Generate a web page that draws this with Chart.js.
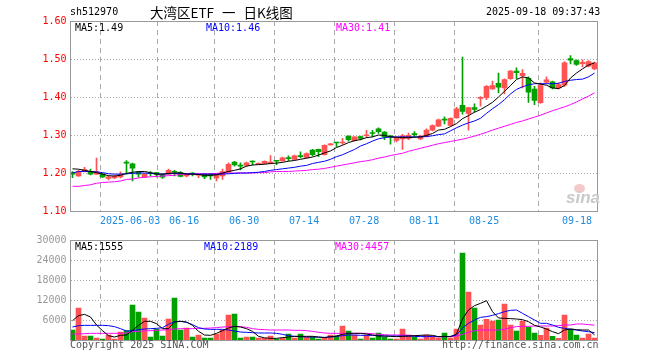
<!DOCTYPE html>
<html><head><meta charset="utf-8">
<script src="https://cdn.jsdelivr.net/npm/chart.js@4.4.1/dist/chart.umd.min.js"></script>
<style>
html,body{margin:0;padding:0;background:#fff;}
#wrap{position:relative;width:660px;height:360px;overflow:hidden;background:#fff;}
canvas{position:absolute;left:0;top:0;}
.t{position:absolute;font:10px "DejaVu Sans Mono",monospace;white-space:nowrap;line-height:12px;}
</style></head><body>
<div id="wrap">
<canvas id="vol" width="660" height="360"></canvas>
<canvas id="price" width="660" height="360"></canvas>
<div class="t" style="left:70px;top:6px;color:#000">sh512970</div>
<div class="t" style="left:150px;top:3px;font:13.5px 'Noto Sans CJK SC',sans-serif;line-height:18px;word-spacing:5px;color:#000">大湾区ETF 一 日K线图</div>
<div class="t" style="left:486px;top:6px;color:#000">2025-09-18 09:37:43</div>
<div class="t" style="left:75px;top:22px;color:#000">MA5:1.49</div>
<div class="t" style="left:206px;top:22px;color:#0000ff">MA10:1.46</div>
<div class="t" style="left:336px;top:22px;color:#ff00ff">MA30:1.41</div>
<div class="t" style="left:75px;top:241px;color:#000">MA5:1555</div>
<div class="t" style="left:204px;top:241px;color:#0000ff">MA10:2189</div>
<div class="t" style="left:335px;top:241px;color:#ff00ff">MA30:4457</div>
<div class="t" style="left:70px;top:339px;color:#555">Copyright 2025 SINA.COM</div>
<div class="t" style="left:442px;top:339px;color:#555">http://finance.sina.com.cn</div>
<div style="position:absolute;left:574px;top:184px;width:11px;height:9px;border-radius:50%;background:#f3c9c9;"></div>
<div class="t" style="left:566px;top:189px;font:italic bold 17px 'Liberation Sans',sans-serif;line-height:18px;color:#c9c9c9">sina</div>
</div>
<script>
const dates = ['05-19','05-20','05-21','05-22','05-23','05-26','05-27','05-28','05-29','05-30',
'06-03','06-04','06-05','06-06','06-09','06-10','06-11','06-12','06-13','06-16',
'06-17','06-18','06-19','06-20','06-23','06-24','06-25','06-26','06-27','06-30',
'07-01','07-02','07-03','07-04','07-07','07-08','07-09','07-10','07-11','07-14',
'07-15','07-16','07-17','07-18','07-21','07-22','07-23','07-24','07-25','07-28',
'07-29','07-30','07-31','08-01','08-04','08-05','08-06','08-07','08-08','08-11',
'08-12','08-13','08-14','08-15','08-18','08-19','08-20','08-21','08-22','08-25',
'08-26','08-27','08-28','08-29','09-01','09-02','09-03','09-04','09-05','09-08',
'09-09','09-10','09-11','09-12','09-15','09-16','09-17','09-18'];
const open = [1.201,1.192,1.204,1.204,1.197,1.197,1.186,1.187,1.190,1.228,
1.224,1.202,1.189,1.200,1.201,1.195,1.197,1.204,1.202,1.192,
1.198,1.194,1.197,1.197,1.187,1.192,1.203,1.229,1.220,1.220,
1.231,1.223,1.225,1.226,1.232,1.232,1.239,1.236,1.245,1.241,
1.260,1.262,1.248,1.274,1.280,1.279,1.297,1.285,1.296,1.298,
1.305,1.316,1.308,1.298,1.286,1.290,1.291,1.302,1.290,1.296,
1.313,1.323,1.342,1.325,1.345,1.378,1.357,1.372,1.396,1.398,
1.421,1.436,1.424,1.448,1.468,1.456,1.449,1.421,1.385,1.439,
1.440,1.424,1.431,1.501,1.496,1.488,1.481,1.474];
const high = [1.204,1.207,1.215,1.210,1.239,1.199,1.192,1.194,1.203,1.233,
1.226,1.204,1.199,1.204,1.202,1.197,1.210,1.207,1.204,1.199,
1.201,1.198,1.199,1.199,1.198,1.210,1.227,1.231,1.227,1.229,
1.232,1.227,1.232,1.246,1.233,1.242,1.245,1.247,1.256,1.253,
1.262,1.263,1.274,1.278,1.281,1.291,1.298,1.296,1.297,1.312,
1.312,1.319,1.309,1.299,1.295,1.302,1.305,1.309,1.299,1.316,
1.327,1.342,1.348,1.345,1.373,1.505,1.373,1.382,1.401,1.430,
1.442,1.463,1.448,1.470,1.477,1.472,1.453,1.428,1.437,1.453,
1.442,1.437,1.493,1.509,1.498,1.498,1.496,1.492];
const low = [1.188,1.191,1.203,1.195,1.196,1.188,1.182,1.185,1.187,1.197,
1.179,1.189,1.188,1.192,1.190,1.186,1.196,1.192,1.190,1.190,
1.192,1.188,1.185,1.183,1.179,1.183,1.201,1.218,1.208,1.218,
1.221,1.222,1.224,1.224,1.222,1.231,1.232,1.234,1.240,1.239,
1.245,1.243,1.247,1.273,1.269,1.275,1.284,1.284,1.287,1.293,
1.295,1.304,1.288,1.276,1.282,1.262,1.288,1.295,1.288,1.295,
1.311,1.322,1.329,1.323,1.344,1.355,1.313,1.360,1.376,1.393,
1.420,1.411,1.408,1.446,1.448,1.424,1.386,1.380,1.383,1.435,
1.421,1.421,1.428,1.487,1.483,1.479,1.479,1.472];
const close = [1.197,1.203,1.209,1.197,1.203,1.190,1.190,1.191,1.196,1.226,
1.213,1.197,1.197,1.198,1.196,1.189,1.207,1.202,1.191,1.197,
1.197,1.197,1.190,1.192,1.197,1.204,1.223,1.221,1.218,1.227,
1.229,1.225,1.231,1.229,1.231,1.240,1.238,1.245,1.243,1.251,
1.248,1.256,1.273,1.277,1.279,1.281,1.288,1.295,1.291,1.300,
1.304,1.309,1.295,1.294,1.293,1.298,1.299,1.301,1.297,1.313,
1.325,1.340,1.339,1.344,1.369,1.362,1.372,1.367,1.399,1.428,
1.430,1.426,1.446,1.468,1.464,1.462,1.413,1.391,1.430,1.445,
1.424,1.433,1.490,1.497,1.486,1.491,1.493,1.490];
const ma5 = [1.211,1.210,1.207,1.204,1.201,1.197,1.193,1.192,1.194,1.199,
1.202,1.204,1.204,1.201,1.197,1.197,1.199,1.200,1.200,1.197,
1.197,1.196,1.194,1.194,1.195,1.200,1.204,1.207,1.211,1.218,
1.221,1.222,1.223,1.225,1.226,1.228,1.231,1.233,1.236,1.239,
1.242,1.247,1.253,1.258,1.267,1.273,1.280,1.285,1.288,1.293,
1.295,1.300,1.299,1.295,1.294,1.293,1.293,1.294,1.295,1.299,
1.304,1.313,1.315,1.322,1.330,1.343,1.351,1.360,1.367,1.376,
1.386,1.400,1.415,1.430,1.446,1.453,1.450,1.437,1.434,1.431,
1.424,1.422,1.430,1.450,1.463,1.474,1.484,1.490];
const ma10 = [1.200,1.204,1.204,1.204,1.203,1.201,1.198,1.197,1.197,1.198,
1.199,1.200,1.200,1.199,1.198,1.197,1.198,1.199,1.199,1.198,
1.198,1.197,1.197,1.197,1.197,1.197,1.198,1.199,1.200,1.200,
1.201,1.202,1.204,1.207,1.209,1.211,1.213,1.215,1.218,1.220,
1.225,1.228,1.231,1.236,1.243,1.248,1.255,1.262,1.271,1.277,
1.284,1.290,1.293,1.295,1.295,1.295,1.295,1.295,1.295,1.296,
1.298,1.301,1.303,1.311,1.319,1.326,1.332,1.337,1.344,1.357,
1.369,1.380,1.393,1.408,1.420,1.427,1.432,1.435,1.435,1.435,
1.435,1.436,1.441,1.444,1.446,1.447,1.453,1.463];
const ma30 = [1.165,1.165,1.167,1.169,1.173,1.175,1.176,1.177,1.179,1.183,
1.184,1.187,1.189,1.190,1.191,1.192,1.193,1.194,1.196,1.197,
1.197,1.198,1.198,1.198,1.199,1.200,1.200,1.200,1.200,1.200,
1.200,1.201,1.201,1.203,1.204,1.204,1.204,1.205,1.206,1.207,
1.209,1.210,1.212,1.215,1.218,1.221,1.224,1.227,1.230,1.232,
1.235,1.239,1.242,1.246,1.249,1.252,1.257,1.261,1.265,1.269,
1.273,1.277,1.280,1.283,1.286,1.289,1.293,1.297,1.302,1.307,
1.313,1.318,1.323,1.328,1.333,1.337,1.342,1.347,1.352,1.358,
1.364,1.369,1.374,1.380,1.387,1.395,1.402,1.411];
const volume = [3000,9600,1200,1200,600,300,1500,300,2400,2800,
10500,8400,6600,900,3300,1200,6300,12600,3000,3600,
900,1500,600,600,1800,3000,7500,7800,600,900,
900,600,600,1200,300,600,1800,600,1800,900,
900,300,600,1500,1200,4200,2700,1500,300,1500,
600,2100,900,300,300,3300,1500,900,300,1500,
1200,600,2100,600,3300,26100,14400,9600,4500,6220,
5700,6000,10800,4500,2700,5700,3900,2100,1400,3600,
1100,515,7500,3300,1500,600,1800,575];
const vma5 = [5800,7300,7700,6900,4500,2800,1300,900,1400,1500,
2900,4400,5600,5600,4900,3400,3400,5400,5600,5400,
4400,2600,1500,1400,2000,2800,3600,4100,3900,3400,
2600,1100,650,500,500,700,900,1100,1100,1100,
1100,900,700,1000,1200,1700,2000,2000,2000,1800,
1500,1200,1200,1100,1000,1100,1200,1300,1400,1500,
1400,1000,1100,1000,1800,6300,9000,10300,11000,11800,
8500,6600,6500,6400,6300,6100,5500,4400,3900,3300,
2500,1900,3000,3300,3100,3000,3000,1555];
const vma10 = [3900,4300,4400,4400,4400,4400,4300,4000,3400,2700,
2800,3100,3300,3400,3500,3700,4700,5500,5600,5300,
4600,3700,3300,3200,3200,3200,3000,2700,2400,2300,
2200,2100,2100,2100,2000,1700,1300,1100,1000,900,
900,850,800,900,1100,1300,1500,1500,1400,1400,
1400,1300,1200,1200,1200,1200,1200,1100,1000,1000,
1100,1000,1000,1100,1500,3600,5000,6000,6800,7000,
7400,7900,8500,8900,9000,8000,7000,6000,5000,5000,
4500,3800,3500,3200,3000,2700,2500,2189];
const vma30 = [1800,1800,1900,2000,2000,2000,2000,2000,2000,2100,
2500,2600,2700,2800,2900,3000,3100,3300,3400,3400,
3400,3500,3500,3600,3700,3900,4000,4100,4000,3800,
3400,3200,3100,3000,3000,3000,3000,2900,2900,2800,
2600,2300,2100,2000,2000,2000,2000,2000,2000,2000,
1900,1700,1600,1500,1500,1500,1400,1300,1200,1100,
1000,1000,1000,1000,1200,1700,2300,2800,3000,3000,
3000,3000,3200,3700,4000,4100,4100,4200,4200,4200,
4200,4300,4500,4500,4800,4800,4600,4457];
const tickLabels = ['2025-06-03','06-16','06-30','07-14','07-28','08-11','08-25','09-18'];
const priceTicks = [1.10,1.20,1.30,1.40,1.50,1.60];
const volTicks = [6000,12000,18000,24000,30000];

const RED = 'rgb(255,82,82)', GREEN = 'rgb(0,160,0)';
const FONT = {family:'DejaVu Sans Mono', size:10};
const colors = open.map((o,i)=> close[i] >= o ? RED : GREEN);
const tickIdx = tickLabels.map(t => dates.indexOf(t.slice(-5)));
// grid line sits at the left edge of the candle body
const xTickVals = [-1/3].concat(tickIdx.map(d => d - 0.4));
const xTickText = [''].concat(tickLabels);
const pts = arr => arr.map((v,i)=>({x:i, y:v}));

const frame = {id:'frame', afterDraw(c){
  const {ctx, chartArea:a} = c;
  ctx.save(); ctx.strokeStyle = '#999'; ctx.lineWidth = 1;
  const l = Math.floor(a.left)+0.5, r = Math.floor(a.right)+0.5, t = Math.floor(a.top)+0.5, b = Math.floor(a.bottom)+0.5;
  ctx.strokeRect(l, t, r-l, b-t);
  ctx.restore();
}};

function xScale(showLabels){
  return {
    type:'linear', min:-1/3, max:87.5, offset:false,
    afterBuildTicks: s => { s.ticks = xTickVals.map(v=>({value:v})); },
    afterFit: s => { s.height = showLabels ? 14 : 0; },
    grid:{color:'#aaa', lineWidth:1, drawTicks:false},
    border:{display:false, dash:[5,4]},
    ticks:{display:showLabels, align:'inner', autoSkip:false, maxRotation:0, minRotation:0,
      padding:4, color:'#1f8ce0', font:FONT,
      callback:(v,i)=> xTickText[i]}
  };
}
function lineDs(arr, color){
  return {type:'line', data:pts(arr), borderColor:color, borderWidth:1, pointRadius:0,
    fill:false, tension:0, order:0};
}

new Chart(document.getElementById('price'), {
  type:'bar',
  data:{datasets:[
    lineDs(ma5,'#000000'), lineDs(ma10,'#0000ff'), lineDs(ma30,'#ff00ff'),
    {type:'bar', data: low.map((l,i)=>({x:i, y:[l, high[i]]})), backgroundColor:colors,
      barThickness:1, grouped:false, order:2},
    {type:'bar', data: open.map((o,i)=>({x:i, y:[o, close[i]]})), backgroundColor:colors,
      barThickness:5, grouped:false, minBarLength:1, order:1}
  ]},
  options:{
    responsive:false, animation:false, events:[],
    layout:{padding:{left:0, right:62.5, top:21, bottom:135}},
    plugins:{legend:{display:false}, tooltip:{enabled:false}},
    scales:{
      x: xScale(true),
      y:{min:1.10, max:1.60,
        afterBuildTicks: s => { s.ticks = priceTicks.map(v=>({value:v})); },
        afterFit: s => { s.width = 70.5; },
        grid:{color:'#aaa', drawTicks:false},
        border:{display:false, dash:[1,2]},
        ticks:{color:'#ff0000', padding:4, font:FONT, callback:v=>Number(v).toFixed(2)}
      }
    }
  },
  plugins:[frame]
});

new Chart(document.getElementById('vol'), {
  type:'bar',
  data:{datasets:[
    lineDs(vma5,'#000000'), lineDs(vma10,'#0000ff'), lineDs(vma30,'#ff00ff'),
    {type:'bar', data: volume.map((v,i)=>({x:i, y:v})), backgroundColor:colors,
      barThickness:5, grouped:false, order:1}
  ]},
  options:{
    responsive:false, animation:false, events:[],
    layout:{padding:{left:0, right:62.5, top:240, bottom:20}},
    plugins:{legend:{display:false}, tooltip:{enabled:false}},
    scales:{
      x: xScale(false),
      y:{min:0, max:30000,
        afterBuildTicks: s => { s.ticks = volTicks.map(v=>({value:v})); },
        afterFit: s => { s.width = 70.5; },
        grid:{color:'#aaa', drawTicks:false},
        border:{display:false, dash:[1,2]},
        ticks:{color:'#999', padding:4, font:FONT, callback:v=>String(v)}
      }
    }
  },
  plugins:[frame]
});
</script>
</body></html>
